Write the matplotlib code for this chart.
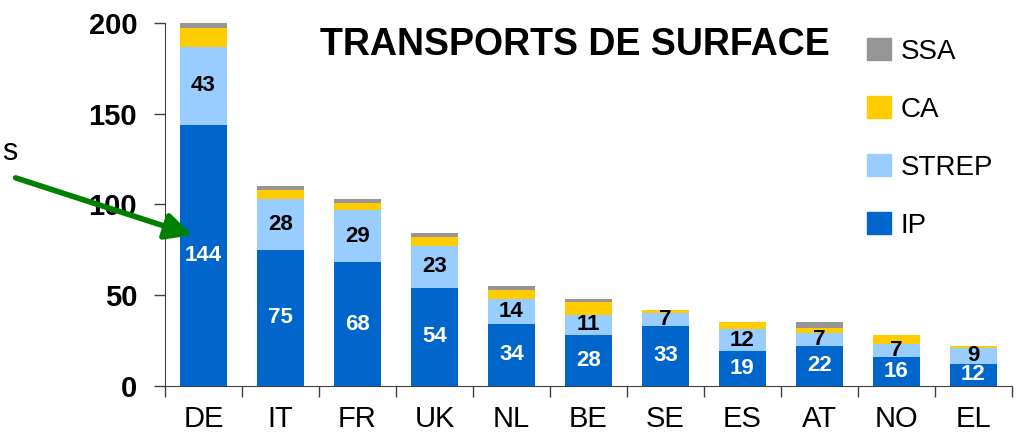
import matplotlib.pyplot as plt
import numpy as np
from matplotlib.patches import Patch, FancyArrowPatch

countries = ["DE", "IT", "FR", "UK", "NL", "BE", "SE", "ES", "AT", "NO", "EL"]
ip = [144, 75, 68, 54, 34, 28, 33, 19, 22, 16, 12]
strep = [43, 28, 29, 23, 14, 11, 7, 12, 7, 7, 9]
ca = [10, 5, 4, 5, 5, 7, 2, 4, 3, 5, 1]
ssa = [3, 2, 2, 2, 2, 2, 0, 0, 3, 0, 0]

series = ["IP", "STREP", "CA", "SSA"]
colors = {"IP": "#0066CC", "STREP": "#99CCFF", "CA": "#FFCC00", "SSA": "#969696"}
font = "Liberation Sans"

fig = plt.figure(figsize=(10.17, 4.42), dpi=100)
ax = fig.add_axes([0.1622, 0.1274, 0.8328, 0.8206])

x = np.arange(len(countries))
w = 0.61
bottom = np.zeros(len(countries))
for name, vals in zip(series, [ip, strep, ca, ssa]):
    vals = np.array(vals, dtype=float)
    ax.bar(x, vals, w, bottom=bottom, color=colors[name], linewidth=0)
    if name in ("IP", "STREP"):
        txtcol = "white" if name == "IP" else "black"
        for xi, b, v in zip(x, bottom, vals):
            ax.text(xi, b + v / 2, str(int(v)), ha="center", va="center",
                    color=txtcol, fontsize=16, fontweight="bold", family=font)
    bottom += vals

ax.set_xlim(-0.5, len(countries) - 0.5)
ax.set_ylim(0, 200)
ax.set_yticks([0, 50, 100, 150, 200])
ax.set_yticklabels(["0", "50", "100", "150", "200"], fontsize=21,
                   fontweight="bold", family=font)
ax.tick_params(axis="y", length=8, width=1, color="#404040", pad=12)

ax.set_xticks(x)
ax.set_xticklabels(countries, fontsize=21, family=font)
ax.set_xticks(np.arange(-0.5, len(countries), 1), minor=True)
ax.tick_params(axis="x", which="major", length=0, pad=14)
ax.tick_params(axis="x", which="minor", length=8, width=1, color="#404040")

for s in ["top", "right"]:
    ax.spines[s].set_visible(False)
for s in ["left", "bottom"]:
    ax.spines[s].set_color("#404040")

fig.text(575 / 1017, 1 - 45 / 442, "TRANSPORTS DE SURFACE", ha="center",
         va="center", fontsize=27, fontweight="bold", family=font)

handles = [Patch(color=colors[n]) for n in series[::-1]]
fig.legend(handles, series[::-1], loc="upper left",
           bbox_to_anchor=(867 / 1017, 1 - 38 / 442), frameon=False,
           borderaxespad=0, borderpad=0, handlelength=0.85, handleheight=0.85,
           handletextpad=0.35, labelspacing=1.13,
           prop={"family": font, "size": 20})

# arrow coming in from the left edge
fig.text(2 / 1017, 1 - 160 / 442, "s", ha="left", va="baseline",
         fontsize=22, family=font)
fig.add_artist(FancyArrowPatch(
    (13 / 1017, 1 - 177 / 442), (195 / 1017, 1 - 236 / 442),
    transform=fig.transFigure, arrowstyle="-|>,head_length=16,head_width=8",
    mutation_scale=1, color="#008000", lw=4))

fig.savefig("out.png", dpi=100)
